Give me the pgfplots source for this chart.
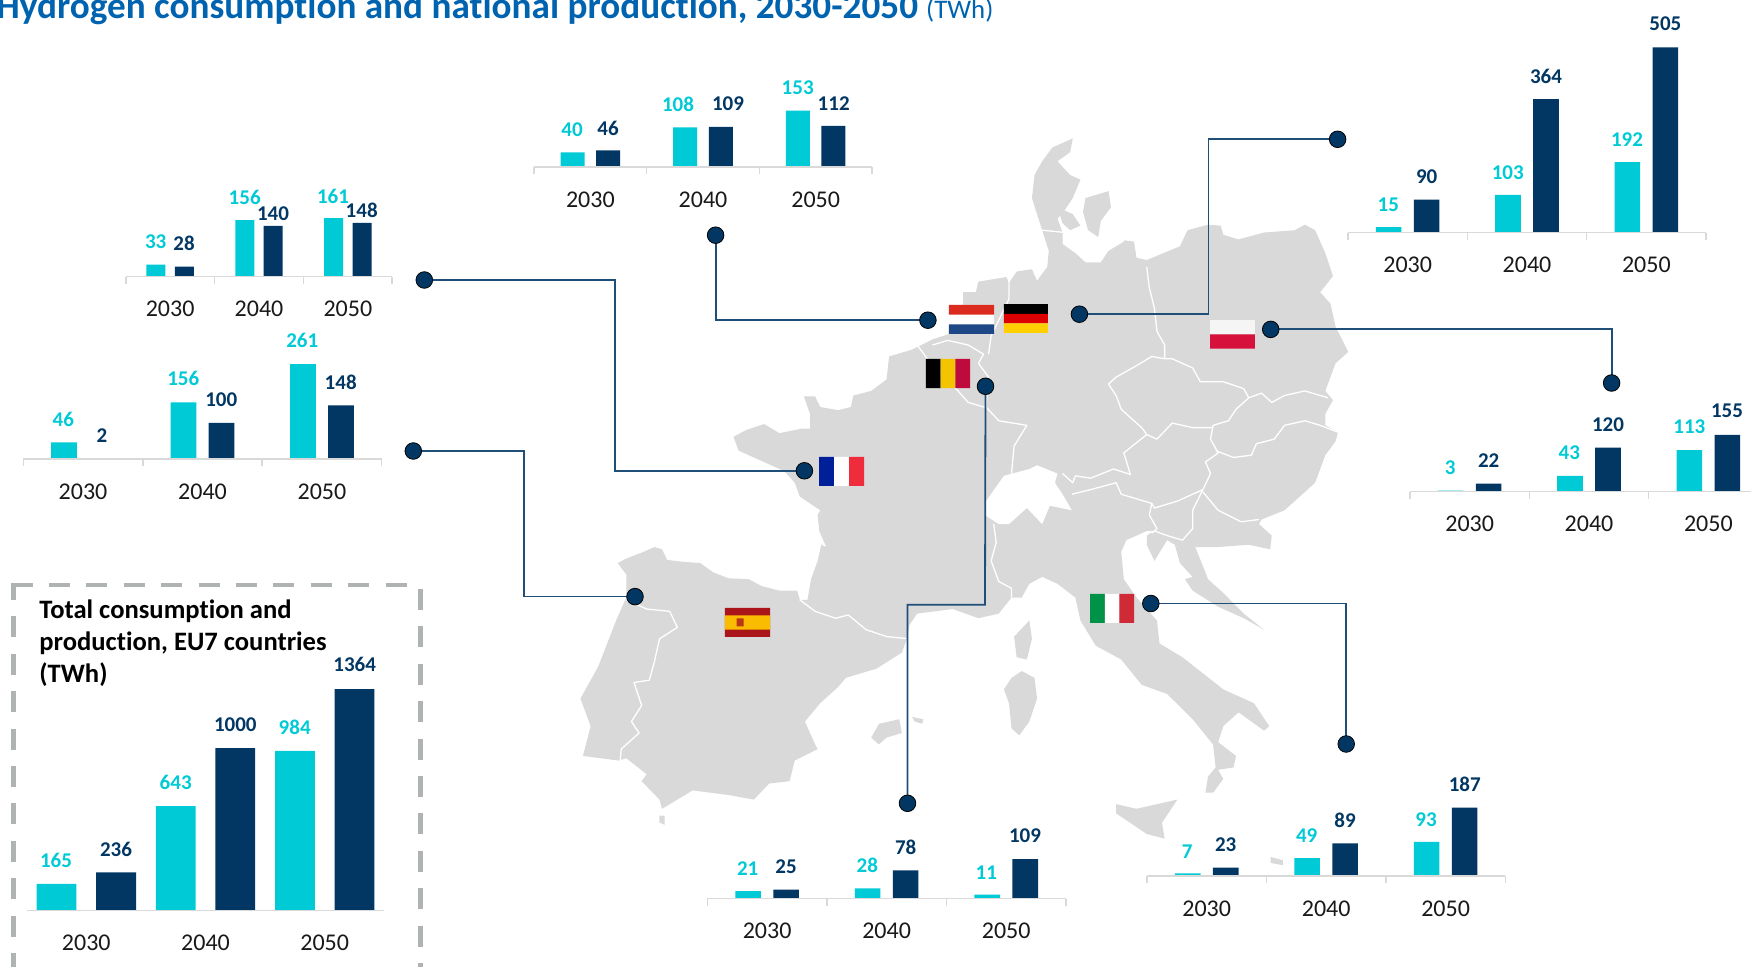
\documentclass[border=0pt]{standalone}
\usepackage{fontspec}
\setmainfont[Ligatures=NoCommon]{Carlito}
\usepackage{pgfplots}
\pgfplotsset{compat=1.18}
\definecolor{cya}{HTML}{00CAD5}
\definecolor{nav}{HTML}{023763}
\definecolor{axg}{HTML}{D9D9D9}
\definecolor{conn}{HTML}{1F4E79}
\definecolor{ttl}{HTML}{0063AF}
\definecolor{land}{HTML}{D9D9D9}
\definecolor{dashc}{HTML}{AFB3B3}
\definecolor{nlr}{HTML}{DB2A1E}\definecolor{nlb}{HTML}{1E4785}
\definecolor{der}{HTML}{DD0000}\definecolor{dey}{HTML}{FFCE00}
\definecolor{bey}{HTML}{F5C400}\definecolor{ber}{HTML}{BE0A3C}
\definecolor{frb}{HTML}{00209A}\definecolor{frr}{HTML}{EE2C3C}
\definecolor{plw}{HTML}{F5F5F5}\definecolor{plr}{HTML}{D6113C}
\definecolor{esr}{HTML}{AA151B}\definecolor{esy}{HTML}{F9BC00}
\definecolor{itg}{HTML}{009246}\definecolor{itr}{HTML}{CE2B37}
% left, baseline, width, ymax(300px), barw, offset, consumption, production, ticklength
\newcommand{\chart}[9]{%
\begin{axis}[at={(#1*0.5pt,{(967-#2)*0.5pt})},anchor=south west,scale only axis,
  width=#3*0.5pt,height=150pt,xmin=0,xmax=3,ymin=0,ymax=#4,clip=false,axis on top,
  axis x line=bottom,axis y line=none,axis line style={-,draw=axg,line width=0.8pt},
  xtick={0.5,1.5,2.5},xticklabels={2030,2040,2050},
  major tick length=0pt,
  xticklabel style={anchor=center,yshift=-16.3pt,font=\fontsize{12}{12}\selectfont,text=black!90},
  extra x ticks={0,1,2,3},extra x tick labels={},
  extra x tick style={major tick length=#9,xtick align=outside,tick style={draw=axg,line width=0.8pt}},
]
\addplot[ybar,bar width=#5*0.5pt,bar shift=-#6*0.5pt,fill=cya,draw=none] coordinates {#7};
\addplot[ybar,bar width=#5*0.5pt,bar shift=#6*0.5pt,fill=nav,draw=none] coordinates {#8};
\end{axis}}
\newcommand{\lab}[4]{\node[text=#4,font=\fontsize{10.5}{10.5}\selectfont\bfseries,anchor=center,inner sep=0pt] at (axis cs:#1,#2) {#3};}
\newcommand{\rect}[5]{\addplot[fill=#1,draw=none] coordinates {(#2,#3)(#4,#3)(#4,#5)(#2,#5)(#2,#3)};}
\newcommand{\bord}[1]{\addplot[white,line width=0.65pt,line join=round] coordinates {#1};}
\newcommand{\isl}[1]{\addplot[fill=land,draw=none] coordinates {#1};}
\begin{document}
\begin{tikzpicture}
\path[use as bounding box] (0,0) rectangle (875.5pt,483.5pt);
% ---------- map, in a 1568x1568 grid over the region x 560-1360, y 120-840
\begin{axis}[at={(280pt,63.5pt)},anchor=south west,scale only axis,width=400pt,height=360pt,
  xmin=0,xmax=1568,ymin=0,ymax=1568,y dir=reverse,hide axis,clip=false]
\addplot[fill=land,draw=none] coordinates {
(113,965)(130,955)(165,940)(185,930)(200,935)(210,958)(240,962)(275,965)(300,985)(330,998)(370,1000)(395,1015)(430,1025)(465,1025)(470,1045)
(485,1045)(492,1000)(505,960)(512,925)(522,930)(508,895)(505,860)(510,850)(470,820)(460,790)(440,765)(410,750)(380,735)(350,720)(340,690)(365,675)(400,662)(430,682)(475,672)(490,672)(490,640)(478,602)(500,602)(510,625)(545,632)(570,625)(575,600)(610,590)(640,565)(645,515)(690,500)(730,478)(765,465)(780,430)(790,400)(790,375)(815,375)(820,352)(875,342)(880,355)
(895,330)(925,325)(935,350)(955,320)(958,285)(945,240)(925,170)(930,120)(945,90)(965,60)(1005,40)(1000,70)(975,90)(1000,120)(1020,130)(1005,170)(990,195)(975,215)(985,245)(985,270)(1010,290)(1030,310)(1060,310)(1075,285)(1105,265)(1125,265)(1130,300)(1150,305)
(1215,275)(1230,240)(1270,228)(1295,230)(1300,250)(1330,260)(1380,245)(1440,240)(1460,228)(1480,240)(1500,290)(1515,340)(1490,375)(1510,400)(1520,450)(1545,505)(1520,530)(1500,590)(1515,610)(1500,640)(1500,665)(1525,680)(1520,700)(1500,730)(1480,790)(1450,820)(1420,850)(1375,870)(1370,880)(1395,905)(1392,935)(1350,925)(1290,930)(1245,930)(1265,985)(1270,1000)(1300,1030)(1340,1075)(1380,1110)(1340,1085)(1290,1060)(1240,1025)(1225,1000)(1240,995)(1215,965)(1205,925)(1190,915)(1165,960)(1150,925)(1150,905)(1165,895)(1150,895)(1110,915)(1100,940)(1105,1000)(1130,1040)
(1170,1090)(1175,1140)(1220,1170)(1300,1240)(1360,1270)(1390,1320)(1380,1330)(1330,1290)(1300,1320)(1290,1355)(1325,1385)(1320,1410)(1290,1415)(1300,1435)(1280,1465)(1265,1465)(1270,1430)(1285,1410)(1280,1360)(1240,1305)(1190,1250)(1140,1230)(1100,1175)(1050,1145)(1020,1090)(1010,1040)(975,1010)(945,995)(920,1010)(905,1040)(885,1040)
(860,1075)(820,1085)(770,1065)(700,1075)(685,1100)(680,1130)(670,1160)(620,1195)(560,1215)(545,1235)(510,1270)(480,1310)(500,1360)(505,1370)(460,1395)(450,1440)(410,1445)(380,1480)(330,1470)(260,1460)(200,1500)(195,1480)(160,1440)(170,1425)(130,1390)(115,1395)(45,1385)(60,1320)(40,1260)(75,1190)(110,1090)(130,1040)(130,990)(113,965)};
% Switzerland is left blank
\addplot[fill=white,draw=none] coordinates {(835,830)(870,775)(920,760)(935,752)(975,770)(970,790)(985,815)(1003,850)(960,840)(945,880)(915,845)(880,880)(860,880)(835,862)(835,830)};
% islands
\isl{(920,1090)(925,1130)(915,1175)(895,1170)(890,1125)(920,1090)}
\isl{(905,1200)(930,1215)(935,1260)(920,1310)(900,1340)(885,1325)(880,1270)(870,1240)(885,1215)(905,1200)}
\isl{(1090,1490)(1130,1500)(1210,1480)(1180,1530)(1185,1565)(1150,1555)(1090,1510)(1090,1490)}
\isl{(610,1345)(625,1315)(665,1305)(670,1335)(640,1345)(625,1360)(610,1345)}
\isl{(690,1300)(712,1305)(710,1315)(695,1310)(690,1300)}
\isl{(195,1515)(205,1515)(205,1535)(195,1530)(195,1515)}
\isl{(975,190)(1005,205)(1020,230)(1000,240)(985,225)(975,190)}
\isl{(1030,170)(1075,155)(1080,190)(1060,220)(1055,255)(1035,240)(1025,200)(1030,170)}
\isl{(1105,262)(1125,265)(1120,285)(1108,280)(1105,262)}
\isl{(1393,1605)(1417,1612)(1417,1623)(1393,1618)(1393,1605)}
% borders
\bord{(130,1045)(170,1065)(215,1070)(230,1105)(195,1130)(185,1180)(175,1220)(145,1225)(160,1275)(140,1310)(155,1335)(120,1370)(118,1395)}
\bord{(470,1045)(500,1070)(540,1085)(565,1078)(600,1110)(640,1125)(685,1130)}
\bord{(850,880)(855,920)(845,960)(860,1005)(885,1020)(885,1040)}
\bord{(700,490)(720,520)(780,590)(800,615)(830,625)(835,625)(860,655)(915,665)(890,710)(885,770)}
\bord{(730,490)(760,480)(800,490)(830,510)(820,530)(840,560)(835,625)}
\bord{(880,345)(880,390)(845,470)(840,510)}
\bord{(1150,320)(1155,365)(1165,410)(1170,460)(1185,490)(1185,520)}
\bord{(945,240)(990,245)}
\bord{(1185,520)(1160,515)(1130,535)(1090,560)(1075,575)(1090,600)(1100,630)(1140,670)(1150,685)}
\bord{(1185,520)(1200,520)(1240,540)(1255,570)(1300,570)(1340,585)(1350,605)}
\bord{(1150,685)(1170,695)(1200,660)(1240,670)(1280,670)}
\bord{(1350,605)(1325,630)(1310,655)(1280,665)(1275,695)}
\bord{(1350,605)(1375,595)(1395,615)(1420,600)(1460,590)(1505,605)}
\bord{(1285,720)(1320,735)(1355,730)(1365,705)(1400,695)(1420,665)(1460,655)(1490,665)(1525,680)}
\bord{(1275,695)(1290,725)(1265,745)(1275,770)(1260,805)}
\bord{(1150,685)(1105,725)(1118,772)(1085,760)(1040,780)(1010,775)(1005,790)(985,770)}
\bord{(1003,815)(1040,805)(1090,790)(1100,815)(1160,835)}
\bord{(1160,835)(1165,845)(1210,830)(1260,805)}
\bord{(1260,805)(1240,850)(1240,890)(1220,915)(1190,905)(1165,895)}
\bord{(1260,810)(1290,850)(1335,875)(1370,870)}
\bord{(1160,835)(1155,860)(1170,890)(1160,900)}
\end{axis}
% ---------- overlay in the picture's pixel grid
\begin{axis}[at={(0pt,0pt)},anchor=south west,scale only axis,width=875.5pt,height=483.5pt,
  xmin=0,xmax=1751,ymin=0,ymax=967,y dir=reverse,hide axis,clip=false]
% title
\node[anchor=base west,inner sep=0pt,text=ttl,font=\fontsize{18.6}{18.6}\selectfont\bfseries] at (axis cs:-4,19) {Hydrogen consumption and national production, 2030-2050 \fontsize{13.4}{13.4}\selectfont\mdseries (TWh)};
% dashed box
\addplot[draw=dashc,line width=2.4pt,dash pattern=on 10.5pt off 8.2pt,dash phase=2pt] coordinates {(13.3,583)(13.3,990)};
\addplot[draw=dashc,line width=2.4pt,dash pattern=on 10.5pt off 8.2pt] coordinates {(11.5,585)(420.3,585)};
\addplot[draw=dashc,line width=2.4pt,dash pattern=on 10.5pt off 8.2pt] coordinates {(420.3,589)(420.3,990)};
\node[anchor=base west,inner sep=0pt,align=left,font=\fontsize{13.3}{16}\selectfont\bfseries] at (axis cs:39,682.6) {Total consumption and\\production, EU7 countries\\(TWh)};
% connectors
\addplot[draw=conn,line width=0.9pt] coordinates {(424.3,280)(614.6,280)(614.6,470.8)(804.4,470.8)};
\addplot[draw=conn,line width=0.9pt] coordinates {(715.6,235.2)(715.6,320.2)(927.9,320.2)};
\addplot[draw=conn,line width=0.9pt] coordinates {(1079.4,314.2)(1208.5,314.2)(1208.5,139.3)(1337.6,139.3)};
\addplot[draw=conn,line width=0.9pt] coordinates {(1270.7,329.4)(1611.6,329.4)(1611.6,383)};
\addplot[draw=conn,line width=0.9pt] coordinates {(635,596.6)(523.7,596.6)(523.7,451)(413.3,451)};
\addplot[draw=conn,line width=0.9pt] coordinates {(985.5,386.3)(985,604.8)(907.5,604.8)(907.5,803.3)};
\addplot[draw=conn,line width=0.9pt] coordinates {(1150.8,603.5)(1346.2,603.5)(1346.2,744)};
\addplot[only marks,mark=*,mark size=4.15pt,mark options={fill=nav,draw=none}] coordinates {
(424.3,280)(804.4,470.8)(715.6,235.2)(927.9,320.2)(1079.4,314.2)(1337.6,139.3)(1270.7,329.4)(1611.6,383)(635,596.6)(413.3,451)(985.5,386.3)(907.5,803.3)(1150.8,603.5)(1346.2,744)};
% flags
\rect{white}{948.8}{305}{994.2}{334}
\rect{nlr}{948.8}{305}{994.2}{314.7}
\rect{nlb}{948.8}{324.3}{994.2}{334}
\rect{black}{1003.9}{304.1}{1047.8}{313.8}
\rect{der}{1003.9}{313.8}{1047.8}{323.4}
\rect{dey}{1003.9}{323.4}{1047.8}{333}
\rect{black}{925.8}{358.8}{940.6}{388.1}
\rect{bey}{940.6}{358.8}{955.4}{388.1}
\rect{ber}{955.4}{358.8}{970.2}{388.1}
\rect{frb}{819.2}{457}{834.1}{486}
\rect{white}{834.1}{457}{849.1}{486}
\rect{frr}{849.1}{457}{864}{486}
\rect{plw}{1210}{320.2}{1254.9}{334.4}
\rect{plr}{1210}{334.4}{1254.9}{348.6}
\rect{esr}{724.8}{608}{770.2}{637}
\rect{esy}{724.8}{615.3}{770.2}{629.7}
\rect{esr!80!esy}{736.5}{618.5}{743.5}{626.5}
\rect{itg}{1090.1}{593.8}{1104.8}{622.8}
\rect{white}{1104.8}{593.8}{1119.4}{622.8}
\rect{itr}{1119.4}{593.8}{1134}{622.8}
% value labels
\lab{155.7}{241.7}{33}{cya}\lab{184}{243.3}{28}{nav}\lab{244.7}{197.3}{156}{cya}\lab{273}{213.3}{140}{nav}\lab{333}{196}{161}{cya}\lab{361.7}{210.7}{148}{nav}
\lab{63.3}{419.3}{46}{cya}\lab{102}{435.3}{2}{nav}\lab{183.3}{378.3}{156}{cya}\lab{221.3}{399.3}{100}{nav}\lab{302.3}{340}{261}{cya}\lab{340.7}{382}{148}{nav}
\lab{572}{130}{40}{cya}\lab{608}{128}{46}{nav}\lab{678}{104.7}{108}{cya}\lab{728}{103.3}{109}{nav}\lab{797.7}{87.3}{153}{cya}\lab{833.7}{103.3}{112}{nav}
\lab{1388.3}{204.3}{15}{cya}\lab{1426.7}{176.7}{90}{nav}\lab{1507.7}{172.7}{103}{cya}\lab{1546}{76}{364}{nav}\lab{1627}{140}{192}{cya}\lab{1665.3}{24}{505}{nav}
\lab{1450.3}{467.3}{3}{cya}\lab{1488.7}{460.7}{22}{nav}\lab{1569.3}{452.7}{43}{cya}\lab{1608}{424.7}{120}{nav}\lab{1689.3}{426.7}{113}{cya}\lab{1727}{410.7}{155}{nav}
\lab{1187.3}{851.7}{7}{cya}\lab{1225.7}{844.3}{23}{nav}\lab{1306.7}{835.3}{49}{cya}\lab{1345}{820.7}{89}{nav}\lab{1426}{819.3}{93}{cya}\lab{1464.7}{784.7}{187}{nav}
\lab{747.7}{868.3}{21}{cya}\lab{786}{866.7}{25}{nav}\lab{867.3}{865.7}{28}{cya}\lab{905.7}{847.7}{78}{nav}\lab{986.3}{872.3}{11}{cya}\lab{1025}{835.7}{109}{nav}
\lab{56}{860.7}{165}{cya}\lab{116}{849.3}{236}{nav}\lab{175.7}{782.3}{643}{cya}\lab{235.3}{724.7}{1000}{nav}\lab{294.7}{727.3}{984}{cya}\lab{354.7}{664.7}{1364}{nav}
\end{axis}
% ---------- bar charts
\chart{125.7}{276.7}{266.6}{826.4}{19}{14.2}{(0.5,33)(1.5,156)(2.5,161)}{(0.5,28)(1.5,140)(2.5,148)}{3.5pt}
\chart{23.3}{459.3}{358.4}{821.9}{25.6}{19}{(0.5,46)(1.5,156)(2.5,261)}{(0.5,2)(1.5,100)(2.5,148)}{3.5pt}
\chart{534}{167.3}{338}{810.8}{24}{17.8}{(0.5,40)(1.5,108)(2.5,153)}{(0.5,46)(1.5,109)(2.5,112)}{3.5pt}
\chart{1348}{232.7}{358}{817.4}{25.6}{19}{(0.5,15)(1.5,103)(2.5,192)}{(0.5,90)(1.5,364)(2.5,505)}{3.5pt}
\chart{1410}{491.7}{358}{817.4}{25.6}{19}{(0.5,3)(1.5,43)(2.5,113)}{(0.5,22)(1.5,120)(2.5,155)}{3.5pt}
\chart{1147}{876}{358.3}{819.7}{25.6}{19}{(0.5,7)(1.5,49)(2.5,93)}{(0.5,23)(1.5,89)(2.5,187)}{3.5pt}
\chart{707.3}{898.7}{358.7}{824.2}{25.6}{19}{(0.5,21)(1.5,28)(2.5,11)}{(0.5,25)(1.5,78)(2.5,109)}{3.5pt}
\chart{26.7}{910.7}{357.6}{1846.2}{39.8}{29.8}{(0.5,165)(1.5,643)(2.5,984)}{(0.5,236)(1.5,1000)(2.5,1364)}{0pt}
\end{tikzpicture}
\end{document}
